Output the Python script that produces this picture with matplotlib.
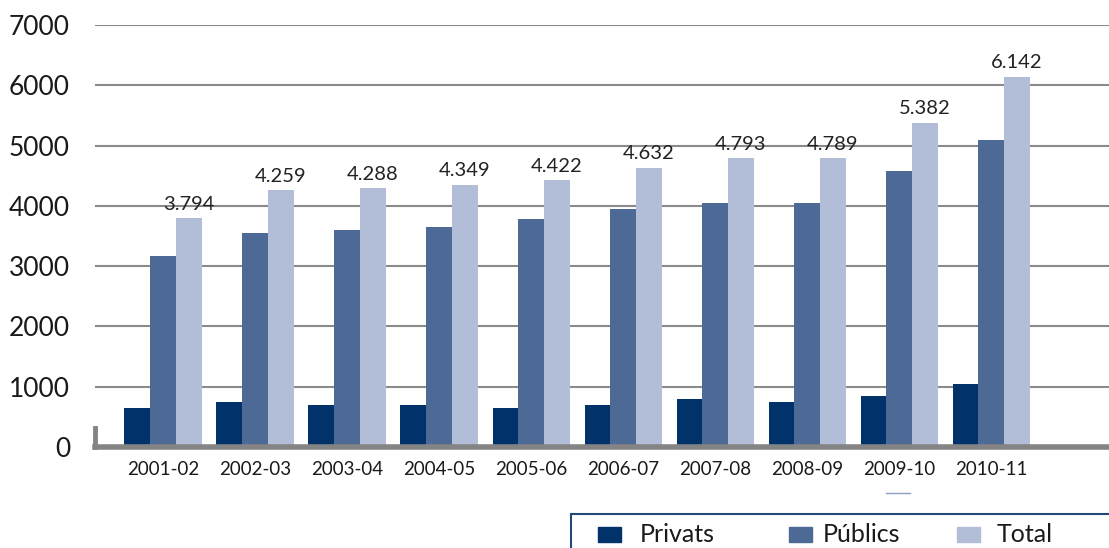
import matplotlib.pyplot as plt
from matplotlib.lines import Line2D
from matplotlib.patches import Rectangle
import numpy as np

years = ['2001-02', '2002-03', '2003-04', '2004-05', '2005-06',
         '2006-07', '2007-08', '2008-09', '2009-10', '2010-11']
privats = [650, 750, 700, 700, 650, 700, 800, 750, 850, 1050]
publics = [3170, 3550, 3600, 3650, 3780, 3950, 4050, 4050, 4570, 5100]
total = [3794, 4259, 4288, 4349, 4422, 4632, 4793, 4789, 5382, 6142]
total_labels = ['3.794', '4.259', '4.288', '4.349', '4.422',
                '4.632', '4.793', '4.789', '5.382', '6.142']
series_names = ['Privats', 'Públics', 'Total']

c_priv = '#01336a'
c_pub = '#4d6a96'
c_tot = '#b2bed7'
colors = [c_priv, c_pub, c_tot]

plt.rcParams['font.family'] = ['Lato', 'DejaVu Sans']

W, H = 1109, 548
fig = plt.figure(figsize=(W / 100, H / 100), dpi=100)
ax = fig.add_axes([95 / W, 1 - 447 / H, 1 - 95 / W, (447 - 25) / H])

x = np.arange(len(years))
w = 0.28
ax.bar(x - w, privats, w, color=c_priv, zorder=3)
ax.bar(x, publics, w, color=c_pub, zorder=3)
ax.bar(x + w, total, w, color=c_tot, zorder=3)

for xi, v, lab in zip(x, total, total_labels):
    ax.text(xi + w, v + 90, lab, ha='center', va='bottom', fontsize=14.5, color='#222222')

ax.set_ylim(0, 7000)
ax.set_xlim(-0.74, 10.28)
ax.set_yticks(np.arange(0, 7001, 1000))
ax.set_yticklabels([str(v) for v in range(0, 7001, 1000)], fontsize=19, color='#1a1a1a')
ax.set_xticks(x)
ax.set_xticklabels(years, fontsize=13.5, color='#1a1a1a')
ax.tick_params(axis='y', length=0, pad=18)
ax.tick_params(axis='x', length=0, pad=10)

ax.grid(axis='y', color='#8a8a8a', linewidth=1.5, zorder=0)
for s in ['top', 'right', 'left']:
    ax.spines[s].set_visible(False)
ax.spines['bottom'].set_color('#848484')
ax.spines['bottom'].set_linewidth(4)
ax.spines['bottom'].set_zorder(4)
ax.plot([0, 0], [0, 0.045], transform=ax.transAxes, color='#848484', lw=3.5, clip_on=False)

# legend box, cut off at the bottom right
fig.patches.append(Rectangle((571 / W, -0.05), 0.6, 1 - 514 / H + 0.05,
                             transform=fig.transFigure, fill=False,
                             edgecolor='#1f4a78', linewidth=1.5))
sq_x = [598, 789, 957]
txt_x = [640, 823, 997]
for name, c, sx, tx in zip(series_names, colors, sq_x, txt_x):
    fig.patches.append(Rectangle((sx / W, 1 - 542 / H), 23 / W, 15 / H,
                                 transform=fig.transFigure, color=c))
    fig.text(tx / W, 1 - 534 / H, name, fontsize=18, color='#1a1a1a',
             ha='left', va='center')

fig.add_artist(Line2D([886 / W, 910 / W], [1 - 493 / H] * 2,
                      transform=fig.transFigure, color='#8ea0c0', lw=1))

plt.savefig('out.png', dpi=100, facecolor='w')
